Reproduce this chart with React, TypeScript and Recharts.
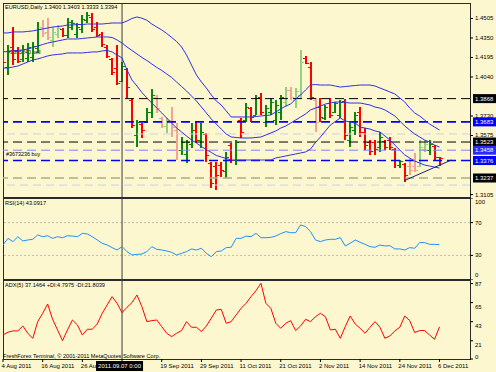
import { Bar, ComposedChart, Line, ReferenceLine, XAxis, YAxis } from "recharts";

const FONT = "'Liberation Sans', Arial, sans-serif";
const BG = "#fcf7cf";
const FRAME = "#2b2b2b";

// daily EURUSD bars, 4 Aug 2011 .. 6 Dec 2011
const opens = [
  1.433, 1.412, 1.428, 1.425, 1.418, 1.419, 1.42, 1.427, 1.444, 1.44,
  1.433, 1.438, 1.442, 1.437, 1.444, 1.438, 1.442, 1.449, 1.452, 1.444,
  1.438, 1.428, 1.418, 1.411, 1.401, 1.41, 1.386, 1.358, 1.367, 1.368,
  1.376, 1.388, 1.371, 1.365, 1.37, 1.362, 1.346, 1.343, 1.351, 1.362,
  1.354, 1.359, 1.336, 1.333, 1.334, 1.329, 1.35, 1.338, 1.37, 1.37,
  1.379, 1.374, 1.388, 1.368, 1.376, 1.37, 1.376, 1.384, 1.394, 1.386,
  1.39, 1.419, 1.412, 1.386, 1.38, 1.371, 1.383, 1.376, 1.374, 1.385,
  1.354, 1.362, 1.376, 1.36, 1.352, 1.352, 1.348, 1.353, 1.354, 1.347,
  1.334, 1.335, 1.333, 1.333, 1.333, 1.347, 1.346, 1.349, 1.34,
];
const highs = [
  1.439, 1.4294, 1.4437, 1.4278, 1.4294, 1.431, 1.4318, 1.4477, 1.4493, 1.4509,
  1.4437, 1.4453, 1.4429, 1.4509, 1.4493, 1.4469, 1.4533, 1.4557, 1.4549, 1.4477,
  1.4398, 1.4294, 1.4191, 1.4294, 1.4159, 1.4111, 1.3873, 1.3698, 1.3674, 1.3793,
  1.3945, 1.3897, 1.3722, 1.3714, 1.3801, 1.3674, 1.3563, 1.3539, 1.3674, 1.3682,
  1.3674, 1.3595, 1.3364, 1.3364, 1.3364, 1.3444, 1.3515, 1.3539, 1.3714, 1.3833,
  1.3801, 1.3897, 1.3913, 1.3817, 1.3873, 1.3857, 1.3897, 1.396, 1.396, 1.3952,
  1.4255, 1.4205, 1.4159, 1.3873, 1.3873, 1.3817, 1.3873, 1.3841, 1.3857, 1.3865,
  1.3674, 1.3762, 1.3801, 1.3634, 1.3539, 1.3539, 1.3603, 1.3539, 1.3563, 1.3475,
  1.338, 1.3356, 1.3396, 1.3436, 1.3539, 1.3539, 1.3539, 1.3499, 1.3403,
];
const lows = [
  1.4111, 1.4056, 1.4135, 1.4151, 1.4159, 1.4159, 1.4159, 1.4231, 1.4358, 1.4334,
  1.4278, 1.435, 1.4358, 1.435, 1.4414, 1.435, 1.439, 1.4469, 1.4398, 1.4358,
  1.4278, 1.4191, 1.4056, 1.3976, 1.4, 1.3873, 1.3634, 1.3483, 1.3555, 1.3674,
  1.3714, 1.3754, 1.3634, 1.3595, 1.3563, 1.338, 1.342, 1.3356, 1.3475, 1.3515,
  1.3475, 1.3364, 1.3157, 1.3141, 1.3245, 1.3237, 1.3356, 1.334, 1.3555, 1.3682,
  1.3682, 1.3738, 1.3738, 1.3642, 1.3738, 1.3658, 1.3698, 1.3801, 1.3857, 1.3793,
  1.3873, 1.414, 1.3857, 1.3603, 1.3682, 1.3698, 1.3714, 1.3754, 1.3714, 1.3539,
  1.3483, 1.3579, 1.3563, 1.3459, 1.342, 1.342, 1.3444, 1.3459, 1.3459, 1.3316,
  1.3316, 1.3205, 1.3261, 1.3284, 1.3324, 1.3444, 1.342, 1.338, 1.3333,
];
const closes = [
  1.416, 1.425, 1.418, 1.417, 1.426, 1.428, 1.429, 1.442, 1.439, 1.436,
  1.44, 1.443, 1.437, 1.448, 1.447, 1.444, 1.45, 1.453, 1.442, 1.437,
  1.43, 1.421, 1.408, 1.399, 1.413, 1.396, 1.366, 1.368, 1.362, 1.376,
  1.39, 1.379, 1.365, 1.37, 1.364, 1.346, 1.352, 1.352, 1.362, 1.354,
  1.36, 1.342, 1.32, 1.326, 1.33, 1.34, 1.338, 1.352, 1.36, 1.38,
  1.372, 1.387, 1.376, 1.379, 1.384, 1.382, 1.388, 1.394, 1.388, 1.393,
  1.416, 1.415, 1.388, 1.368, 1.372, 1.38, 1.374, 1.383, 1.384, 1.358,
  1.364, 1.374, 1.36, 1.35, 1.345, 1.347, 1.356, 1.348, 1.348, 1.338,
  1.337, 1.326, 1.33, 1.33, 1.348, 1.351, 1.351, 1.34, 1.3394,
];
// bars that show up washed out in the screenshot
const fadedBars = [8, 9, 10, 11, 31, 32, 33, 34, 35, 57, 58, 59, 60, 63, 82, 83, 84, 85];

// Bollinger bands
const upperBand = [
  1.439, 1.439, 1.4398, 1.4398, 1.4398, 1.4402, 1.4406, 1.4414, 1.4422, 1.4429,
  1.4437, 1.4441, 1.4445, 1.4453, 1.4453, 1.4457, 1.4457, 1.4461, 1.4461, 1.4461,
  1.4461, 1.4465, 1.4469, 1.4469, 1.4469, 1.4485, 1.4505, 1.4517, 1.4507, 1.4491,
  1.4461, 1.4437, 1.4414, 1.4386, 1.4354, 1.4322, 1.4278, 1.4215, 1.4135, 1.4056,
  1.4, 1.3952, 1.3897, 1.3849, 1.3817, 1.377, 1.3722, 1.3722, 1.3722, 1.3722,
  1.3722, 1.3726, 1.373, 1.3734, 1.3738, 1.3762, 1.3786, 1.3809, 1.3825, 1.3865,
  1.3897, 1.3937, 1.3976, 1.398, 1.3976, 1.3976, 1.3976, 1.3968, 1.396, 1.3964,
  1.3968, 1.3972, 1.3976, 1.3976, 1.3976, 1.3968, 1.3952, 1.3937, 1.3921, 1.3905,
  1.3873, 1.3841, 1.3793, 1.3754, 1.373, 1.3698, 1.3666, 1.3642, 1.3618,
];
const middleBand = [
  1.4239, 1.4243, 1.4247, 1.4251, 1.4255, 1.4262, 1.4274, 1.4286, 1.4298, 1.431,
  1.4318, 1.4326, 1.4334, 1.4342, 1.4342, 1.4342, 1.4346, 1.435, 1.4354, 1.4358,
  1.4358, 1.4358, 1.4354, 1.4334, 1.431, 1.4278, 1.4251, 1.4223, 1.4195, 1.4171,
  1.4143, 1.4116, 1.4092, 1.4064, 1.4036, 1.4, 1.3964, 1.3929, 1.3889, 1.3849,
  1.3801, 1.3754, 1.3706, 1.3666, 1.3626, 1.3587, 1.3563, 1.3559, 1.3555, 1.3555,
  1.3555, 1.3559, 1.3563, 1.3579, 1.3595, 1.3611, 1.3634, 1.365, 1.3674, 1.3698,
  1.3722, 1.3746, 1.3778, 1.3793, 1.3809, 1.3825, 1.3833, 1.3841, 1.3841, 1.3837,
  1.3833, 1.3833, 1.3833, 1.3825, 1.3817, 1.3801, 1.3793, 1.3778, 1.3754, 1.373,
  1.369, 1.365, 1.3618, 1.3587, 1.3563, 1.3539, 1.3523, 1.3499, 1.3483,
];
const lowerBand = [
  1.4111, 1.4111, 1.4119, 1.4127, 1.4143, 1.4159, 1.4175, 1.4183, 1.4195, 1.4207,
  1.4215, 1.4219, 1.4223, 1.4231, 1.4231, 1.4231, 1.4231, 1.4235, 1.4239, 1.4239,
  1.4247, 1.4251, 1.4239, 1.4215, 1.4191, 1.4096, 1.4016, 1.3968, 1.3917, 1.3873,
  1.3833, 1.3793, 1.3754, 1.3714, 1.3674, 1.3634, 1.3603, 1.3571, 1.3539, 1.3515,
  1.3487, 1.3463, 1.344, 1.3416, 1.3404, 1.3392, 1.338, 1.338, 1.338, 1.338,
  1.338, 1.338, 1.338, 1.338, 1.338, 1.3396, 1.3404, 1.3412, 1.342, 1.3428,
  1.3436, 1.3444, 1.3467, 1.3519, 1.3563, 1.3611, 1.3658, 1.3686, 1.3714, 1.369,
  1.3682, 1.3674, 1.3642, 1.3634, 1.3626, 1.3611, 1.3603, 1.3571, 1.3539, 1.3499,
  1.3459, 1.342, 1.3396, 1.3372, 1.3356, 1.334, 1.3332, 1.3324, 1.3316,
];

const rsiValues = [
  42.7, 50.8, 46.8, 52.8, 47.6, 48.8, 49.6, 54.9, 52.8, 54.0,
  50.8, 52.8, 51.6, 54.0, 53.6, 52.8, 56.9, 56.1, 52.8, 48.8,
  44.8, 42.7, 39.5, 36.6, 40.7, 34.6, 30.5, 31.3, 31.7, 34.6,
  40.7, 37.4, 36.6, 35.4, 33.8, 30.5, 32.5, 34.6, 37.9, 36.6,
  38.7, 32.5, 28.4, 34.6, 35.4, 39.5, 39.9, 50.8, 50.8, 53.6,
  52.8, 56.9, 51.6, 51.6, 52.0, 53.6, 56.5, 59.0, 57.7, 57.7,
  67.2, 65.1, 59.0, 48.8, 46.8, 48.8, 49.6, 49.6, 51.6, 41.5,
  44.8, 48.8, 46.0, 43.5, 40.7, 39.9, 42.7, 41.5, 41.9, 37.9,
  37.9, 36.6, 39.5, 38.7, 45.6, 45.6, 43.5, 43.5, 43.1,
];

const adxValues = [
  27.7, 30.9, 32.4, 32.4, 38.1, 29.7, 23.8, 43.1, 52.7, 63.4,
  45.8, 33.5, 21.2, 33.5, 45.0, 39.3, 27.7, 34.3, 34.3, 40.4,
  52.7, 62.3, 71.9, 64.2, 53.4, 59.6, 65.0, 73.8, 60.4, 43.1,
  44.2, 45.0, 37.4, 29.7, 25.8, 29.7, 32.8, 43.1, 36.6, 36.6,
  31.6, 38.1, 47.0, 56.5, 57.3, 41.2, 43.1, 50.8, 58.4, 64.2,
  71.9, 78.8, 87.3, 64.2, 58.4, 41.2, 35.4, 41.2, 44.2, 32.8,
  38.1, 45.8, 43.1, 48.8, 52.7, 48.8, 33.5, 34.3, 23.8, 37.4,
  49.6, 40.4, 35.4, 29.7, 36.6, 43.1, 36.6, 23.8, 26.6, 32.4,
  36.6, 49.6, 44.2, 30.5, 32.8, 32.8, 27.7, 22.7, 37.1,
];

const priceTicks = [1.3105, 1.3575, 1.373, 1.404, 1.4195, 1.435, 1.4505];
const rsiTicks = [0, 30, 70, 100];
const rsiLevels = [30, 70];
const adxTicks = [0, 21, 43, 65, 87];
const dateTicks = [0, 8, 16, 24, 32, 40, 48, 56, 64, 72, 80, 88];
const dateLabels = [
  "4 Aug 2011", "16 Aug 2011", "26 Aug 2011", "7 Sep 2011", "19 Sep 2011", "29 Sep 2011",
  "11 Oct 2011", "21 Oct 2011", "2 Nov 2011", "14 Nov 2011", "24 Nov 2011", "6 Dec 2011",
];

// horizontal order / level lines with their price boxes
const levelPrices = [1.3868, 1.3683, 1.3523, 1.3458, 1.3376, 1.3237];
const levelStyles = [
  { stroke: "#000000", width: 1, box: "#000000" },
  { stroke: "#0000ff", width: 1.6, box: "#0000ff" },
  { stroke: "#000000", width: 1, box: "#000000" },
  { stroke: "#8080ff", width: 1, box: "#2a2aff" },
  { stroke: "#0000ff", width: 1.3, box: "#0000ff" },
  { stroke: "#b3ab87", width: 1.3, box: "#000000" },
];
const faintLevels = [1.3587, 1.3181];

const trendLine = [
  { x: 80.9, y: 1.3216 },
  { x: 90.4, y: 1.338 },
];

const crosshairBar = 24;
const crosshairLabel = "2011.09.07 0:00";

const X_DOMAIN: [number, number] = [0, 94.15];
const PLOT_W = 467;
const PX_PER_BAR = PLOT_W / (X_DOMAIN[1] - X_DOMAIN[0]);
const CHART_MARGIN = { top: 0, right: 0, bottom: 0, left: 3 };

const rows = opens.map((open, i) => ({
  i,
  open,
  high: highs[i],
  low: lows[i],
  close: closes[i],
  range: [lows[i], highs[i]],
  faded: fadedBars.includes(i),
  upper: upperBand[i],
  middle: middleBand[i],
  lower: lowerBand[i],
  rsi: rsiValues[i],
  adx: adxValues[i],
}));

function OhlcBar(props: any) {
  const { x, y, width, height, payload } = props;
  if (x == null || y == null || !payload) return null;
  const top = Math.min(y, y + height);
  const h = Math.abs(height);
  const span = payload.high - payload.low || 1;
  const at = (v: number) => Math.round(top + ((payload.high - v) / span) * h) + 0.5;
  const cx = Math.round(x + width / 2);
  const up = payload.close >= payload.open;
  const color = up
    ? payload.faded ? "#93d083" : "#0b870b"
    : payload.faded ? "#f3a393" : "#ff0000";
  return (
    <g shapeRendering="crispEdges">
      <rect x={cx - 1} y={top} width={2} height={Math.max(h, 1)} fill={color} />
      <line x1={cx - 3} x2={cx} y1={at(payload.open)} y2={at(payload.open)} stroke={color} />
      <line x1={cx} x2={cx + 3} y1={at(payload.close)} y2={at(payload.close)} stroke={color} />
    </g>
  );
}

function AxisTick({ x, y, payload, nudge, digits }: any) {
  const v = payload.value;
  return (
    <text
      x={x}
      y={y + (nudge?.[v] ?? 0)}
      dominantBaseline="central"
      fontSize={6}
      fontFamily={FONT}
      fill="#000"
    >
      {digits ? v.toFixed(digits) : v}
    </text>
  );
}

function DateTick({ x, y, payload }: any) {
  const v = payload.value;
  if (v === crosshairBar) {
    return (
      <g>
        <rect x={x - 26} y={y - 3} width={47} height={10} fill="#000" />
        <text x={x - 2.5} y={y + 2} textAnchor="middle" dominantBaseline="central" fontSize={6} fontFamily={FONT} fill="#fff">
          {crosshairLabel}
        </text>
      </g>
    );
  }
  const label = dateLabels[dateTicks.indexOf(v)];
  // the label just before the crosshair box is hidden under it, as in the terminal
  const boxLeft = x + (crosshairBar - v) * PX_PER_BAR - 26;
  const covered = v < crosshairBar && v + 8 >= crosshairBar;
  const id = `date-clip-${v}`;
  return (
    <g>
      {covered && (
        <defs>
          <clipPath id={id}>
            <rect x={x - 4} y={y - 6} width={boxLeft - x + 4} height={16} />
          </clipPath>
        </defs>
      )}
      <text
        x={x - 1.5}
        y={y + 2}
        dominantBaseline="central"
        fontSize={6}
        fontFamily={FONT}
        fill="#000"
        clipPath={covered ? `url(#${id})` : undefined}
      >
        {covered ? label.slice(0, 5) : label}
      </text>
    </g>
  );
}

function LevelBox({ viewBox, text, fill }: any) {
  if (!viewBox) return null;
  const bx = viewBox.x + viewBox.width + 3;
  const by = viewBox.y;
  return (
    <g>
      <rect x={bx} y={by - 4.5} width={23} height={9} fill={fill} />
      <text x={bx + 2} y={by} dominantBaseline="central" fontSize={6} fontFamily={FONT} fill="#fff">
        {text}
      </text>
    </g>
  );
}

function PriceChart() {
  return (
    <ComposedChart width={496} height={200} data={rows} margin={{ ...CHART_MARGIN, top: 4, bottom: 3 }}>
      <XAxis type="number" dataKey="i" domain={X_DOMAIN} allowDataOverflow hide />
      <YAxis
        orientation="right"
        width={26}
        domain={[1.3086, 1.462]}
        allowDataOverflow
        ticks={priceTicks}
        interval={0}
        tickSize={3}
        tickLine={{ stroke: "#000" }}
        axisLine={false}
        tick={<AxisTick digits={4} />}
      />
      {faintLevels.map((p) => (
        <ReferenceLine key={p} y={p} stroke="#cdd0e6" strokeDasharray="8 5" />
      ))}
      {levelPrices.map((p, k) => (
        <ReferenceLine
          key={p}
          y={p}
          stroke={levelStyles[k].stroke}
          strokeWidth={levelStyles[k].width}
          strokeDasharray="9 5"
          label={<LevelBox text={p.toFixed(4)} fill={levelStyles[k].box} />}
        />
      ))}
      <ReferenceLine x={crosshairBar} stroke="#3a3a3a" />
      <Line dataKey="upper" stroke="#2f2fe8" strokeWidth={1} dot={false} activeDot={false} isAnimationActive={false} />
      <Line dataKey="middle" stroke="#2f2fe8" strokeWidth={1} dot={false} activeDot={false} isAnimationActive={false} />
      <Line dataKey="lower" stroke="#2f2fe8" strokeWidth={1} dot={false} activeDot={false} isAnimationActive={false} />
      <Bar dataKey="range" barSize={3} shape={<OhlcBar />} isAnimationActive={false} />
      <ReferenceLine segment={trendLine} stroke="#20206e" ifOverflow="visible" />
    </ComposedChart>
  );
}

function RsiChart() {
  return (
    <ComposedChart width={496} height={82} data={rows} margin={CHART_MARGIN}>
      <XAxis type="number" dataKey="i" domain={X_DOMAIN} allowDataOverflow hide />
      <YAxis
        orientation="right"
        width={26}
        domain={[0, 100]}
        allowDataOverflow
        ticks={rsiTicks}
        interval={0}
        tickSize={3}
        tickLine={{ stroke: "#000" }}
        axisLine={false}
        tick={<AxisTick nudge={{ 100: 4, 0: -5 }} />}
      />
      {rsiLevels.map((v) => (
        <ReferenceLine key={v} y={v} stroke="#bdbdbd" strokeDasharray="2 2" />
      ))}
      <ReferenceLine x={crosshairBar} stroke="#3a3a3a" />
      <Line dataKey="rsi" stroke="#1e90ff" strokeWidth={1} dot={false} activeDot={false} isAnimationActive={false} />
    </ComposedChart>
  );
}

function AdxChart() {
  return (
    <ComposedChart width={496} height={92} data={rows} margin={CHART_MARGIN}>
      <XAxis
        type="number"
        dataKey="i"
        domain={X_DOMAIN}
        allowDataOverflow
        ticks={dateTicks}
        interval={0}
        height={13}
        tickSize={3}
        tickMargin={2}
        tickLine={{ stroke: "#000" }}
        axisLine={false}
        tick={<DateTick />}
      />
      <YAxis
        orientation="right"
        width={26}
        domain={[0, 91.1]}
        allowDataOverflow
        ticks={adxTicks}
        interval={0}
        tickSize={3}
        tickLine={{ stroke: "#000" }}
        axisLine={false}
        tick={<AxisTick nudge={{ 87: 0.5, 65: 4, 43: 4, 21: 4.5, 0: -2 }} />}
      />
      <ReferenceLine x={crosshairBar} stroke="#3a3a3a" />
      <Line dataKey="adx" stroke="#ff0000" strokeWidth={1} dot={false} activeDot={false} isAnimationActive={false} />
    </ComposedChart>
  );
}

export default function App() {
  const text = { fontSize: 6, fontFamily: FONT, fill: "#000" };
  return (
    <div style={{ position: "fixed", left: 0, top: 0, width: 496, height: 372, background: BG, overflow: "hidden" }}>
      <svg width={496} height={372} style={{ position: "absolute", left: 0, top: 0 }}>
        <g fill="none" stroke={FRAME} shapeRendering="crispEdges">
          <rect x={3.5} y={3.5} width={467} height={194} />
          <rect x={3.5} y={198.5} width={467} height={81} />
          <rect x={3.5} y={280.5} width={467} height={79} />
        </g>
        <text x={5} y={9} {...text} fontSize={5.6}>EURUSD,Daily  1.3400 1.3403 1.3333 1.3394</text>
        <text x={7} y={54} {...text} fontSize={5.4}>#3595240 sell</text>
        <text x={6} y={156} {...text} fontSize={5.4}>#3673236 buy</text>
        <text x={5} y={205} {...text} fontSize={5.6}>RSI(14) 43.0917</text>
        <text x={5} y={287} {...text} fontSize={5.6}>ADX(5) 37.1464 +DI:4.7975 -DI:21.8039</text>
        <text x={3} y={358} {...text} fontSize={5.6}>FreshForex Terminal, © 2001-2011 MetaQuotes Software Corp.</text>
      </svg>
      <div style={{ position: "absolute", left: 0, top: 0 }}>
        <PriceChart />
      </div>
      <div style={{ position: "absolute", left: 0, top: 198 }}>
        <RsiChart />
      </div>
      <div style={{ position: "absolute", left: 0, top: 280 }}>
        <AdxChart />
      </div>
    </div>
  );
}
